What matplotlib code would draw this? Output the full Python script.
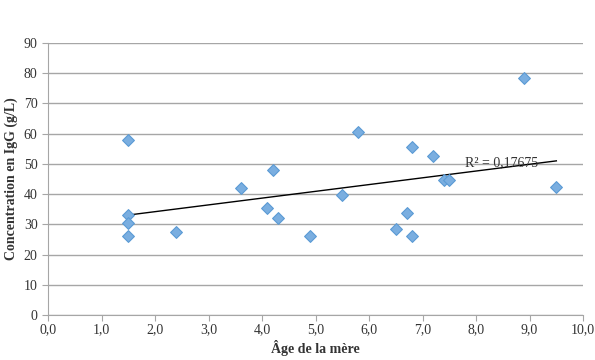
import numpy as np
import matplotlib
matplotlib.use("Agg")
import matplotlib.pyplot as plt

age = [1.5, 1.5, 1.5, 1.5, 2.4, 3.6, 4.1, 4.2, 4.3, 4.9, 5.5, 5.8, 6.5, 6.7, 6.8, 6.8, 7.2, 7.4, 7.5, 8.9, 9.5]
igg = [57.9, 33.1, 30.3, 26.2, 27.4, 42.1, 35.5, 47.9, 32.0, 26.2, 39.7, 60.7, 28.4, 33.9, 55.7, 26.2, 52.7, 44.7, 44.7, 78.5, 42.3]
r2_label = "R² = 0,17675"
xticks = np.arange(0, 10.01, 1.0)
yticks = np.arange(0, 91, 10)

plt.rcParams['font.family'] = ['Liberation Serif', 'DejaVu Serif']

fig = plt.figure(figsize=(5.95, 3.6), dpi=100)
ax = fig.add_axes([0.0807, 0.125, 0.8993, 0.7556])

ax.set_xlim(0, 10)
ax.set_ylim(0, 90)
ax.set_yticks(yticks)
ax.set_xticks(xticks)
ax.set_xticklabels([f"{v:.1f}".replace('.', ',') for v in xticks])
ax.yaxis.grid(True, color='#a6a6a6', linewidth=1.0)
ax.set_axisbelow(True)
for s in ['top', 'right']:
    ax.spines[s].set_visible(False)
for s in ['left', 'bottom']:
    ax.spines[s].set_color('#a6a6a6')
ax.tick_params(axis='both', colors='#a6a6a6', labelcolor='#333333', labelsize=10, length=4, direction='out')
ax.tick_params(axis='x', pad=2)

x = np.array(age); y = np.array(igg)
a, b = np.polyfit(x, y, 1)
xs = np.array([x.min(), x.max()])
ax.plot(xs, a * xs + b, color='black', linewidth=1.0, zorder=2)

ax.scatter(age, igg, marker='D', s=36, color='#7aaee0', edgecolors='#5b9bd5', linewidths=0.8, zorder=3)

ax.text(7.8, 50.5, r2_label, fontsize=10, color='#333333', va='center', ha='left', zorder=4)

ax.set_xlabel("Âge de la mère", fontsize=10, fontweight='bold', color='#333333', labelpad=3)
ax.set_ylabel("Concentration en IgG (g/L)", fontsize=10, fontweight='bold', color='#333333', labelpad=4)

fig.savefig("out.png", dpi=100)
